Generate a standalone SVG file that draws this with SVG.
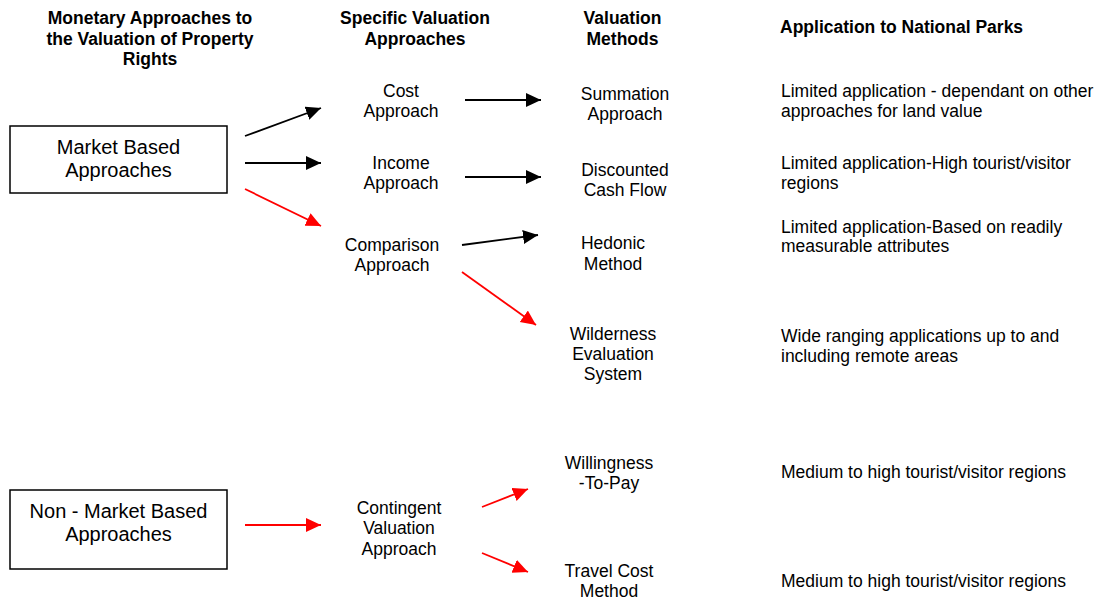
<svg xmlns="http://www.w3.org/2000/svg" width="1097" height="599" viewBox="0 0 1097 599">
<defs>
<style>
text{font-family:"Liberation Sans",Arial,sans-serif;fill:#000}
.h{font-weight:bold;font-size:17.5px;text-anchor:middle}
.h2{font-weight:bold;font-size:17.5px}
.b{font-size:17.5px;text-anchor:middle}
.a{font-size:17.5px}
.bx{font-size:20px;text-anchor:middle}
.box{fill:#fff;stroke:#000;stroke-width:1.5}
.k{stroke:#000;stroke-width:1.8;fill:none}
.r{stroke:#f00;stroke-width:1.8;fill:none}
</style>
<marker id="ak" markerUnits="userSpaceOnUse" markerWidth="16" markerHeight="15" refX="15" refY="7" orient="auto"><path d="M0,0 L15,7 L0,14 z" fill="#000"/></marker>
<marker id="ar" markerUnits="userSpaceOnUse" markerWidth="16" markerHeight="15" refX="15" refY="7" orient="auto"><path d="M0,0 L15,7 L0,14 z" fill="#f00"/></marker>
</defs>
<rect width="1097" height="599" fill="#fff"/>
<g id="headers">
<text class="h" x="150" y="24">Monetary Approaches to</text>
<text class="h" x="150" y="44.5">the Valuation of Property</text>
<text class="h" x="150" y="65">Rights</text>
<text class="h" x="415" y="24">Specific Valuation</text>
<text class="h" x="415" y="45">Approaches</text>
<text class="h" x="622.5" y="24">Valuation</text>
<text class="h" x="622.5" y="45">Methods</text>
<text class="h2" x="780" y="33">Application to National Parks</text>
</g>
<g id="market">
<rect class="box" x="10" y="126" width="217" height="67"/>
<text class="bx" x="118.5" y="154">Market Based</text>
<text class="bx" x="118.5" y="177">Approaches</text>
</g>
<g id="nonmarket">
<rect class="box" x="10" y="490" width="217" height="79"/>
<text class="bx" x="118.5" y="518">Non - Market Based</text>
<text class="bx" x="118.5" y="541">Approaches</text>
</g>
<g id="cost"><text class="b" x="401" y="97">Cost</text><text class="b" x="401" y="117">Approach</text></g>
<g id="income"><text class="b" x="401" y="169">Income</text><text class="b" x="401" y="189">Approach</text></g>
<g id="comparison"><text class="b" x="392" y="251">Comparison</text><text class="b" x="392" y="271">Approach</text></g>
<g id="contingent"><text class="b" x="399" y="514">Contingent</text><text class="b" x="399" y="534">Valuation</text><text class="b" x="399" y="555">Approach</text></g>
<g id="summation"><text class="b" x="625" y="100">Summation</text><text class="b" x="625" y="120">Approach</text></g>
<g id="dcf"><text class="b" x="625" y="176">Discounted</text><text class="b" x="625" y="196">Cash Flow</text></g>
<g id="hedonic"><text class="b" x="613" y="249">Hedonic</text><text class="b" x="613" y="270">Method</text></g>
<g id="wilderness"><text class="b" x="613" y="340">Wilderness</text><text class="b" x="613" y="360">Evaluation</text><text class="b" x="613" y="380">System</text></g>
<g id="wtp"><text class="b" x="609" y="469">Willingness</text><text class="b" x="609" y="489">-To-Pay</text></g>
<g id="travel"><text class="b" x="609" y="577">Travel Cost</text><text class="b" x="609" y="596.5">Method</text></g>
<g id="applications">
<text class="a" x="781" y="97">Limited application - dependant on other</text>
<text class="a" x="781" y="117">approaches for land value</text>
<text class="a" x="781" y="169">Limited application-High tourist/visitor</text>
<text class="a" x="781" y="189">regions</text>
<text class="a" x="781" y="233">Limited application-Based on readily</text>
<text class="a" x="781" y="252">measurable attributes</text>
<text class="a" x="781" y="342">Wide ranging applications up to and</text>
<text class="a" x="781" y="362">including remote areas</text>
<text class="a" x="781" y="478">Medium to high tourist/visitor regions</text>
<text class="a" x="781" y="587">Medium to high tourist/visitor regions</text>
</g>
<g id="connectors">
<line class="k" x1="245" y1="136" x2="321" y2="108" marker-end="url(#ak)"/>
<line class="k" x1="245" y1="163" x2="321" y2="163" marker-end="url(#ak)"/>
<line class="r" x1="245" y1="189" x2="321" y2="226" marker-end="url(#ar)"/>
<line class="k" x1="465" y1="100" x2="541" y2="100" marker-end="url(#ak)"/>
<line class="k" x1="465" y1="177" x2="541" y2="177" marker-end="url(#ak)"/>
<line class="k" x1="462" y1="245" x2="538" y2="235" marker-end="url(#ak)"/>
<line class="r" x1="462" y1="272" x2="536" y2="325" marker-end="url(#ar)"/>
<line class="r" x1="245" y1="525" x2="321" y2="525" marker-end="url(#ar)"/>
<line class="r" x1="482" y1="507" x2="528" y2="489" marker-end="url(#ar)"/>
<line class="r" x1="482" y1="553" x2="528" y2="572" marker-end="url(#ar)"/>
</g>
</svg>
